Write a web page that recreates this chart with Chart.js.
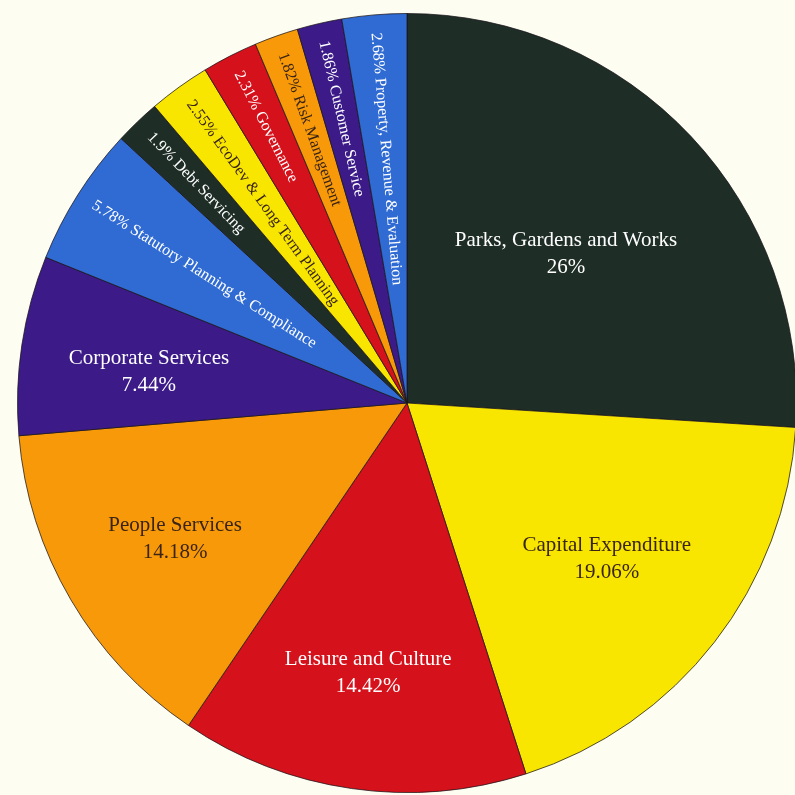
<!DOCTYPE html>
<html>
<head>
<meta charset="utf-8">
<script src="https://cdn.jsdelivr.net/npm/chart.js@4"></script>
<style>
  html, body { margin: 0; padding: 0; background: #fdfdf2; overflow: hidden; }
  body { width: 795px; height: 795px; position: relative; }
  #wrap { position: absolute; left: 17px; top: 13px; width: 780px; height: 780px; }
</style>
</head>
<body>
<div id="wrap"><canvas id="graficoPizza" width="780" height="780"></canvas></div>
<script>
// Dados
const categorias = [
  "Parks, Gardens and Works",
  "Capital Expenditure",
  "Leisure and Culture",
  "People Services",
  "Corporate Services",
  "Statutory Planning & Compliance",
  "Debt Servicing",
  "EcoDev & Long Term Planning",
  "Governance",
  "Risk Management",
  "Customer Service",
  "Property, Revenue & Evaluation",
];
const valores = [26, 19.06, 14.42, 14.18, 7.44, 5.78, 1.9, 2.55, 2.31, 1.82, 1.86, 2.68];
const rotulosPct = ["26%", "19.06%", "14.42%", "14.18%", "7.44%", "5.78%", "1.9%", "2.55%", "2.31%", "1.82%", "1.86%", "2.68%"];

const VERDE = "#1e2e27";
const AMARELO = "#f8e600";
const VERMELHO = "#d5111b";
const LARANJA = "#f8990a";
const ROXO = "#3c1b88";
const AZUL = "#2f6bd2";
const cores = [VERDE, AMARELO, VERMELHO, LARANJA, ROXO, AZUL, VERDE, AMARELO, VERMELHO, LARANJA, ROXO, AZUL];

const TEXTO_ESCURO = "#3a2414";
const corTexto = (c) => (c === AMARELO || c === LARANJA ? TEXTO_ESCURO : "#ffffff");

// distância do rótulo grande até o centro (fração do raio)
const raioRotulo = [0.56, 0.65, 0.7, 0.69, 0.67];

const rotulosPlugin = {
  id: "rotulos",
  afterDatasetsDraw(chart) {
    const ctx = chart.ctx;
    const meta = chart.getDatasetMeta(0);
    meta.data.forEach((arc, i) => {
      const { x, y, startAngle, endAngle, outerRadius } = arc.getProps(
        ["x", "y", "startAngle", "endAngle", "outerRadius"], true);
      const meio = (startAngle + endAngle) / 2;
      ctx.save();
      ctx.fillStyle = corTexto(cores[i]);
      if (valores[i] > 7) {
        const r = outerRadius * raioRotulo[i];
        const px = x + Math.cos(meio) * r;
        const py = y + Math.sin(meio) * r + (i === 4 ? 8 : 0);
        ctx.font = "21px 'Liberation Serif', serif";
        ctx.textAlign = "center";
        ctx.textBaseline = "middle";
        ctx.fillText(categorias[i], px, py - 13.5);
        ctx.fillText(rotulosPct[i], px, py + 13.5);
      } else {
        // texto ao longo do raio, de fora para dentro
        const r = outerRadius - 18;
        ctx.translate(x + Math.cos(meio) * r, y + Math.sin(meio) * r);
        ctx.rotate(meio + Math.PI);
        ctx.font = "16px 'Liberation Serif', serif";
        ctx.textAlign = "left";
        ctx.textBaseline = "middle";
        ctx.fillText(rotulosPct[i] + " " + categorias[i], 0, 0);
      }
      ctx.restore();
    });
  },
};

new Chart(document.getElementById("graficoPizza"), {
  type: "pie",
  data: {
    labels: categorias,
    datasets: [
      {
        data: valores,
        backgroundColor: cores,
        borderColor: "rgba(25,20,25,0.75)",
        borderWidth: 1,
        hoverOffset: 0,
      },
    ],
  },
  options: {
    responsive: false,
    animation: false,
    layout: { padding: 0 },
    plugins: {
      legend: { display: false },
      tooltip: { enabled: false },
    },
  },
  plugins: [rotulosPlugin],
});
</script>
</body>
</html>
